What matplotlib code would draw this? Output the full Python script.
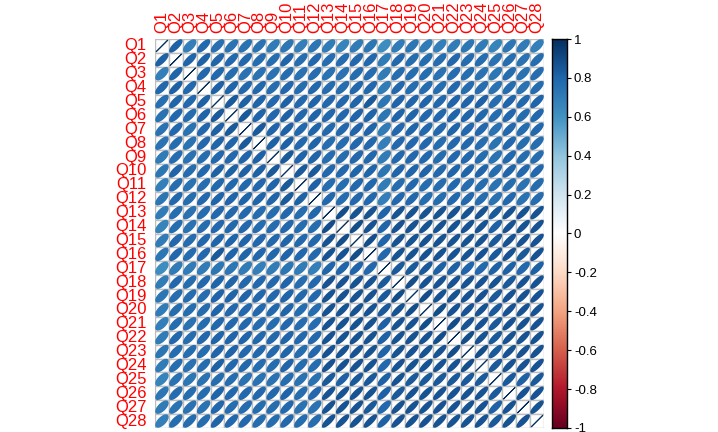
import numpy as np
import matplotlib
matplotlib.use("Agg")
import matplotlib.pyplot as plt
from matplotlib.colors import LinearSegmentedColormap

plt.rcParams['font.family'] = ['Liberation Sans', 'DejaVu Sans']

labels = ["Q%d" % i for i in range(1, 29)]

# upper triangle of the correlation matrix, row i holds cols i+1..28
upper = [
    [0.82, 0.68, 0.78, 0.75, 0.74, 0.74, 0.74, 0.70, 0.72, 0.68, 0.72, 0.70, 0.66,
     0.70, 0.72, 0.62, 0.70, 0.72, 0.70, 0.68, 0.70, 0.72, 0.70, 0.66, 0.72, 0.70, 0.68],
    [0.80, 0.82, 0.80, 0.78, 0.78, 0.76, 0.76, 0.80, 0.76, 0.78, 0.76, 0.76,
     0.78, 0.78, 0.70, 0.78, 0.76, 0.76, 0.76, 0.78, 0.76, 0.76, 0.74, 0.76, 0.74, 0.76],
    [0.78, 0.78, 0.76, 0.74, 0.74, 0.74, 0.76, 0.74, 0.76, 0.74, 0.74,
     0.76, 0.76, 0.70, 0.76, 0.76, 0.76, 0.74, 0.76, 0.76, 0.74, 0.72, 0.76, 0.74, 0.76],
    [0.82, 0.80, 0.78, 0.78, 0.76, 0.78, 0.76, 0.78, 0.76, 0.76,
     0.78, 0.78, 0.70, 0.78, 0.76, 0.76, 0.76, 0.78, 0.76, 0.76, 0.74, 0.76, 0.74, 0.76],
    [0.84, 0.82, 0.80, 0.78, 0.82, 0.78, 0.80, 0.78, 0.78,
     0.80, 0.84, 0.72, 0.80, 0.80, 0.80, 0.78, 0.80, 0.80, 0.82, 0.76, 0.80, 0.78, 0.80],
    [0.84, 0.80, 0.78, 0.82, 0.78, 0.80, 0.78, 0.78,
     0.80, 0.80, 0.72, 0.80, 0.80, 0.78, 0.78, 0.80, 0.80, 0.78, 0.76, 0.78, 0.76, 0.78],
    [0.84, 0.80, 0.82, 0.78, 0.80, 0.78, 0.78,
     0.80, 0.80, 0.70, 0.78, 0.80, 0.78, 0.78, 0.80, 0.78, 0.78, 0.74, 0.78, 0.76, 0.78],
    [0.82, 0.82, 0.78, 0.80, 0.76, 0.76,
     0.78, 0.78, 0.68, 0.78, 0.78, 0.78, 0.76, 0.78, 0.78, 0.76, 0.74, 0.78, 0.76, 0.76],
    [0.84, 0.80, 0.80, 0.76, 0.76,
     0.78, 0.78, 0.70, 0.78, 0.78, 0.78, 0.76, 0.78, 0.78, 0.76, 0.74, 0.78, 0.76, 0.76],
    [0.84, 0.84, 0.78, 0.78,
     0.80, 0.80, 0.72, 0.80, 0.80, 0.80, 0.78, 0.80, 0.80, 0.80, 0.76, 0.80, 0.78, 0.78],
    [0.82, 0.76, 0.76,
     0.78, 0.78, 0.70, 0.76, 0.78, 0.76, 0.76, 0.78, 0.76, 0.76, 0.74, 0.76, 0.74, 0.76],
    [0.78, 0.76,
     0.78, 0.78, 0.68, 0.78, 0.78, 0.76, 0.76, 0.78, 0.78, 0.76, 0.74, 0.78, 0.74, 0.76],
    [0.88,
     0.86, 0.86, 0.80, 0.86, 0.86, 0.86, 0.86, 0.86, 0.86, 0.86, 0.84, 0.86, 0.86, 0.86],
    [0.88, 0.86, 0.80, 0.86, 0.86, 0.86, 0.86, 0.86, 0.86, 0.86, 0.82, 0.86, 0.86, 0.86],
    [0.88, 0.80, 0.86, 0.86, 0.86, 0.86, 0.86, 0.86, 0.86, 0.84, 0.86, 0.86, 0.86],
    [0.78, 0.86, 0.86, 0.86, 0.86, 0.86, 0.86, 0.86, 0.84, 0.86, 0.84, 0.86],
    [0.84, 0.84, 0.84, 0.82, 0.82, 0.80, 0.78, 0.82, 0.82, 0.78, 0.82],
    [0.88, 0.86, 0.86, 0.86, 0.86, 0.86, 0.86, 0.84, 0.86, 0.86],
    [0.88, 0.86, 0.86, 0.86, 0.86, 0.84, 0.86, 0.86, 0.86],
    [0.88, 0.86, 0.86, 0.86, 0.84, 0.86, 0.86, 0.86],
    [0.88, 0.86, 0.86, 0.84, 0.86, 0.86, 0.86],
    [0.88, 0.86, 0.84, 0.86, 0.86, 0.86],
    [0.88, 0.84, 0.86, 0.86, 0.86],
    [0.84, 0.86, 0.86, 0.86],
    [0.84, 0.82, 0.84],
    [0.86, 0.86],
    [0.86],
]

n = len(labels)
corr = np.eye(n)
for i, row in enumerate(upper):
    for k, v in enumerate(row):
        j = i + 1 + k
        corr[i, j] = v
        corr[j, i] = v

col2 = ["#67001F", "#B2182B", "#D6604D", "#F4A582", "#FDDBC7", "#FFFFFF",
        "#D1E5F0", "#92C5DE", "#4393C3", "#2166AC", "#053061"]
cmap = LinearSegmentedColormap.from_list("RdBu_cp", col2, N=200)

legend_ticks = [-1, -0.8, -0.6, -0.4, -0.2, 0, 0.2, 0.4, 0.6, 0.8, 1]
legend_labels = ["-1", "-0.8", "-0.6", "-0.4", "-0.2", "0", "0.2", "0.4", "0.6", "0.8", "1"]

W, H = 718, 432
fig = plt.figure(figsize=(W / 100, H / 100), dpi=100)
gx0, gx1, gy0, gy1 = 155, 544, 39, 428
ax = fig.add_axes([gx0 / W, 1 - gy1 / H, (gx1 - gx0) / W, (gy1 - gy0) / H])
ax.set_xlim(-0.5, n - 0.5)
ax.set_ylim(-0.5, n - 0.5)
ax.axis('off')

t = np.linspace(0, 2 * np.pi, 99)
for i in range(n):
    for j in range(n):
        r = corr[i, j]
        cx, cy = j, n - 1 - i
        ax.add_patch(plt.Rectangle((cx - 0.5, cy - 0.5), 1, 1, facecolor='white',
                                   edgecolor='#BEBEBE', lw=1, zorder=1))
        a = np.arccos(np.clip(r, -1, 1)) / 2
        ex = 0.85 * np.cos(t + a) / 2 + cx
        ey = 0.85 * np.cos(t - a) / 2 + cy
        c = cmap((r + 1) / 2)
        ax.fill(ex, ey, facecolor=c, edgecolor=c, lw=0.7 if i == j else 1.2, zorder=2)

for i, lab in enumerate(labels):
    ax.text(-1.1, n - 1 - i, lab, ha='right', va='center', color='red',
            fontsize=12, clip_on=False)
    ax.text(i, n - 0.5 + 0.45, lab, ha='center', va='bottom', rotation=90,
            color='red', fontsize=12, clip_on=False)

# colour legend
cx0, cx1 = 552, 567
cax = fig.add_axes([cx0 / W, 1 - gy1 / H, (cx1 - cx0) / W, (gy1 - gy0) / H])
grad = np.linspace(-1, 1, 200).reshape(-1, 1)
cax.imshow(grad, cmap=cmap, aspect='auto', origin='lower', extent=[0, 1, -1, 1],
           vmin=-1, vmax=1)
cax.set_xticks([])
cax.yaxis.tick_right()
cax.set_yticks(legend_ticks)
cax.set_yticklabels(legend_labels, fontsize=9.5)
cax.tick_params(axis='y', length=3, width=0.8, pad=2)
for s in cax.spines.values():
    s.set_linewidth(1)
    s.set_color('black')

fig.savefig("out.png", dpi=100)
